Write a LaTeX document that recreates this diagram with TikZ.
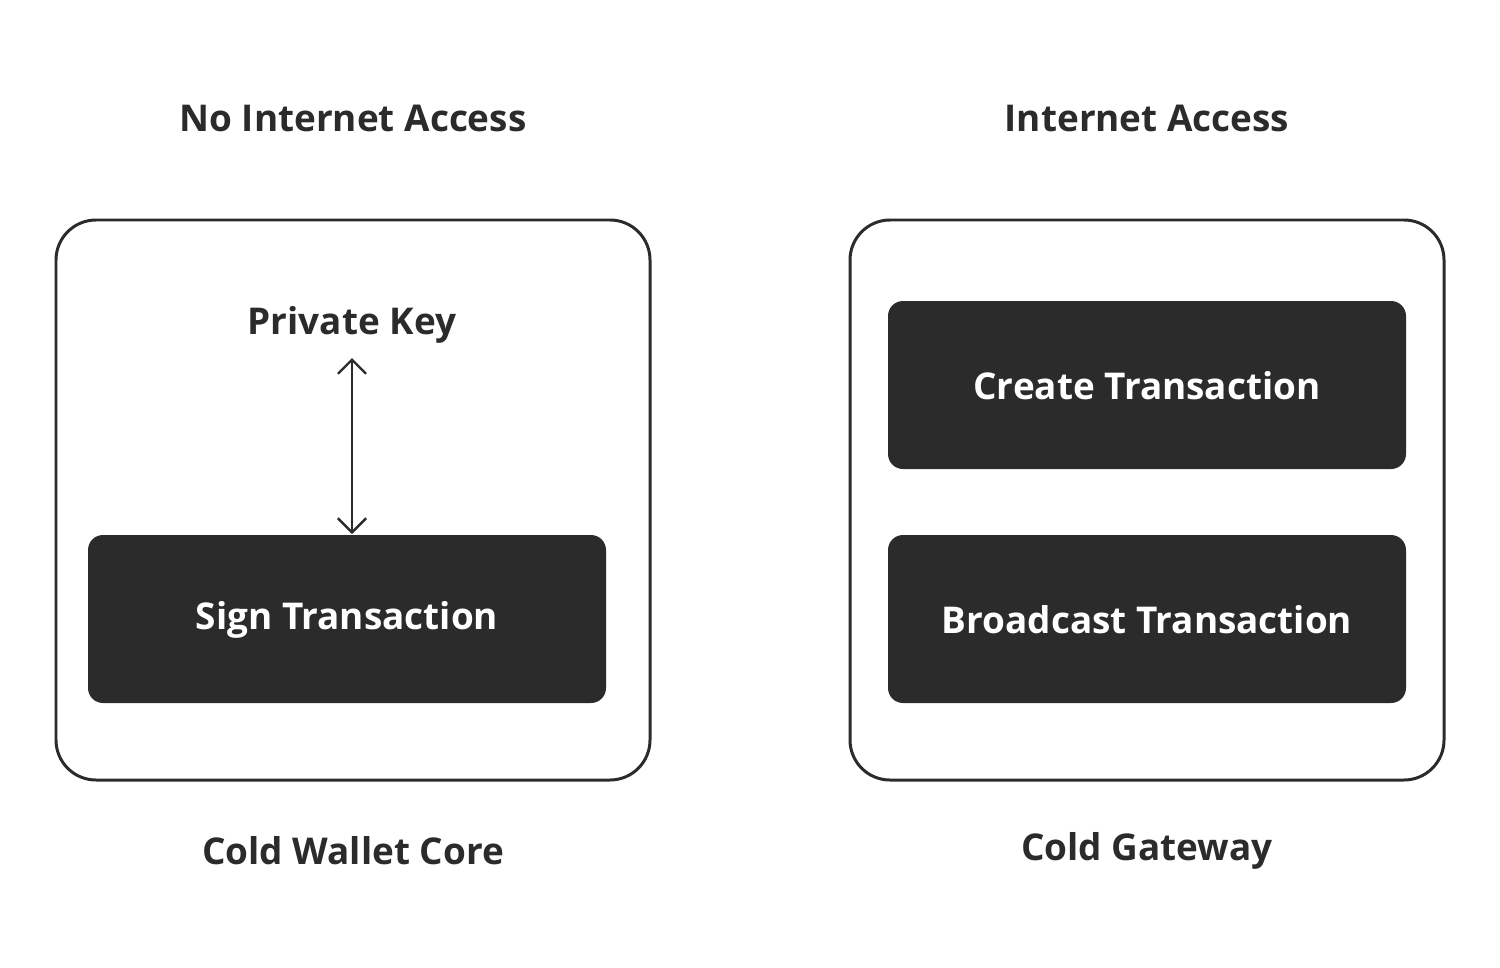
\documentclass[tikz,border=0pt]{standalone}
\usepackage{fontspec}
\setmainfont{Open Sans}
\usetikzlibrary{arrows.meta}
\definecolor{ink}{HTML}{2B2B2B}
\begin{document}
\begin{tikzpicture}[x=0.02cm,y=-0.02cm,
  outer/.style={draw=ink,line width=1.7pt,rounded corners=0.8cm},
  dark/.style={fill=ink,rounded corners=0.3cm},
  lbl/.style={text=ink,font=\bfseries\fontsize{21}{25}\selectfont},
  wlbl/.style={text=white,font=\bfseries\fontsize{21}{25}\selectfont}]
\useasboundingbox (0,0) rectangle (1500,967);
\draw[outer] (56,220) rectangle (650,780);
\draw[outer] (850,220) rectangle (1444,780);
\fill[dark] (88,535) rectangle (606,703);
\fill[dark] (888,301) rectangle (1406,469);
\fill[dark] (888,535) rectangle (1406,703);
\node[lbl] (t1) at (353,118) {No Internet Access};
\node[lbl] (t2) at (1147,118) {Internet Access};
\node[lbl] (b1) at (353,851) {Cold Wallet Core};
\node[lbl] (b2) at (1147,851) {Cold Gateway};
\node[lbl] (pk) at (352,325) {Private Key};
\node[wlbl] (sign) at (347,620) {Sign Transaction};
\node[wlbl] (create) at (1147,386) {Create Transaction};
\node[wlbl] (bc) at (1147,620) {Broadcast Transaction};
\coordinate (a1) at (352,358);
\coordinate (a2) at (352,534);
\draw[ink,line width=1.4pt,{Straight Barb[length=8pt,width=16pt]}-{Straight Barb[length=8pt,width=16pt]}] (a1) -- (a2);
\end{tikzpicture}
\end{document}
